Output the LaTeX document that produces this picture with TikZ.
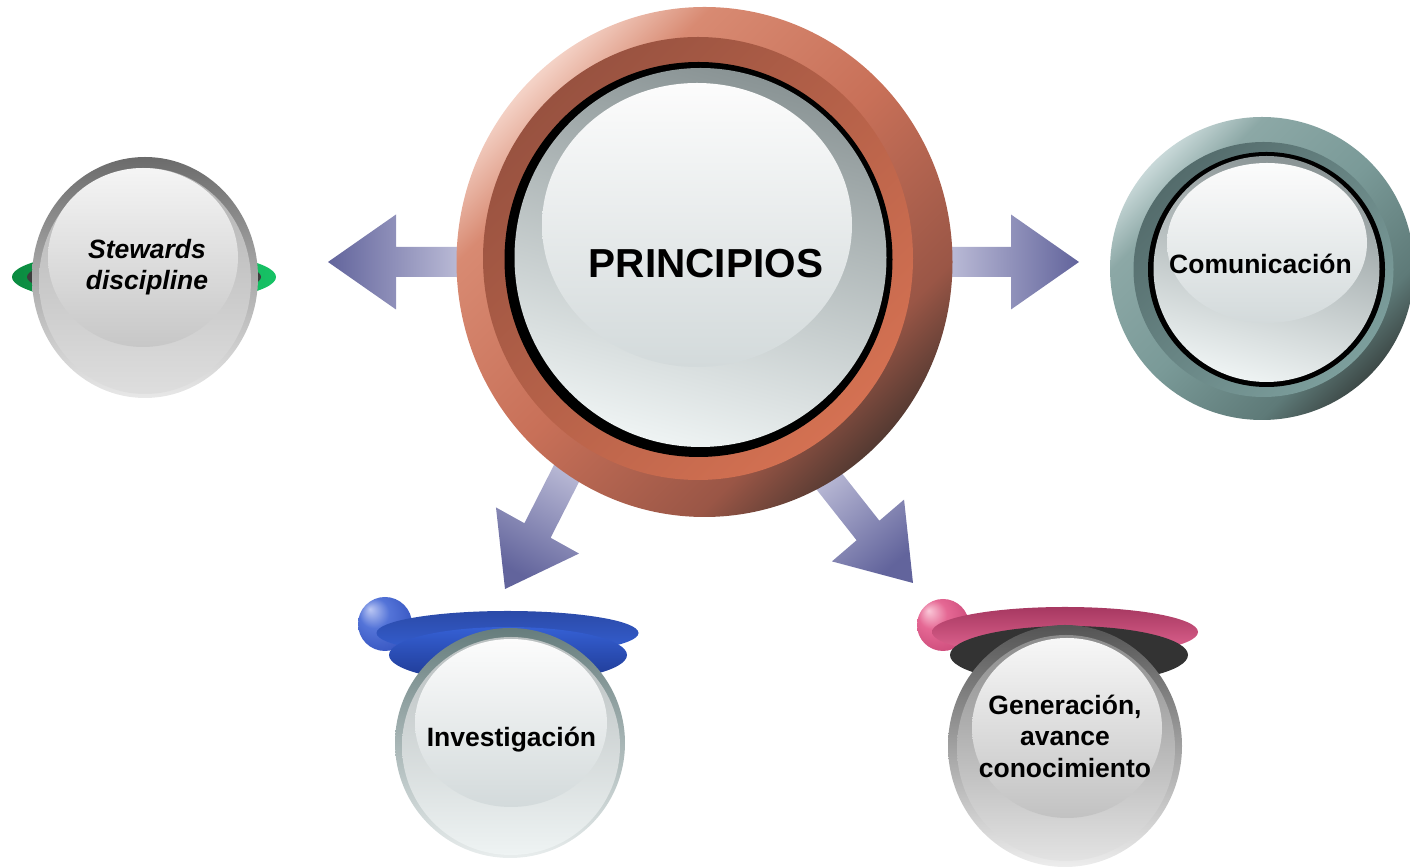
\documentclass[tikz,border=0pt]{standalone}
\usepackage{fontspec}
\setmainfont{Liberation Sans}
\usetikzlibrary{calc}
\definecolor{arrDark}{HTML}{62649C}
\definecolor{arrLight}{HTML}{C8C8DF}
\definecolor{prR0}{HTML}{553A32}
\definecolor{prR1}{HTML}{9A5646}
\definecolor{prR2}{HTML}{C87058}
\definecolor{prR3}{HTML}{D88A72}
\definecolor{prR4}{HTML}{F4D2C6}
\definecolor{prB1}{HTML}{985240}
\definecolor{prB2}{HTML}{D47152}
\definecolor{coR0}{HTML}{3E4A48}
\definecolor{coR1}{HTML}{5E7A78}
\definecolor{coR2}{HTML}{7A9A98}
\definecolor{coR3}{HTML}{8CA8A6}
\definecolor{coR4}{HTML}{C8D8D8}
\definecolor{coB1}{HTML}{546C6C}
\definecolor{coB2}{HTML}{7C9E9C}
\definecolor{faceTop}{HTML}{8A9495}
\definecolor{faceBot}{HTML}{EEF3F3}
\definecolor{hiTop}{HTML}{FCFCFC}
\definecolor{hiBot}{HTML}{D3DADB}
\definecolor{sbA}{HTML}{BCC8F4}
\definecolor{sbB}{HTML}{5474D8}
\definecolor{sbC}{HTML}{2C4AB8}
\definecolor{spA}{HTML}{FAC8D8}
\definecolor{spB}{HTML}{E56894}
\definecolor{spC}{HTML}{C44272}
\definecolor{grL}{HTML}{0B8B40}
\definecolor{grR}{HTML}{16C265}
\definecolor{blTop}{HTML}{2B4AA8}
\definecolor{blMid}{HTML}{3560D4}
\definecolor{blBot}{HTML}{1E3890}
\pgfdeclareverticalshading{prring}{100bp}{color(0bp)=(prR0); color(25bp)=(prR0); color(32.5bp)=(prR1); color(50bp)=(prR2); color(67.5bp)=(prR3); color(75bp)=(prR4); color(100bp)=(prR4)}
\pgfdeclareverticalshading{coring}{100bp}{color(0bp)=(coR0); color(25bp)=(coR0); color(32.5bp)=(coR1); color(50bp)=(coR2); color(67.5bp)=(coR3); color(75bp)=(coR4); color(100bp)=(coR4)}
\pgfdeclareradialshading{bluesphere}{\pgfpoint{-14bp}{14bp}}{color(0bp)=(sbA); color(14bp)=(sbB); color(40bp)=(sbC); color(50bp)=(sbC)}
\pgfdeclareradialshading{pinksphere}{\pgfpoint{-14bp}{14bp}}{color(0bp)=(spA); color(14bp)=(spB); color(40bp)=(spC); color(50bp)=(spC)}
\newcommand\myblockarrow[4]{%
  \shade[arrowsh, shading angle=#4] (#3) -- ($(#2)!23.75pt!90:(#3)$) -- ($(#2)!7.5pt!90:(#3)$) -- ($(#1)!7.5pt!90:(#3)$) -- ($(#1)!7.5pt!-90:(#3)$) -- ($(#2)!7.5pt!-90:(#3)$) -- ($(#2)!23.75pt!-90:(#3)$) -- cycle;}
\begin{document}
\begin{tikzpicture}[x=0.5pt,y=0.5pt,
  lbl/.style={font=\fontsize{13.25}{15.75}\selectfont\bfseries, inner sep=0pt, align=center, text=black},
  arrowsh/.style={top color=arrDark, bottom color=arrLight}]
\useasboundingbox (0,0) rectangle (1410,867);

% arrow coordinates
\coordinate (eL) at (480,605);  \coordinate (bL) at (396,605);  \coordinate (tL) at (328,605);
\coordinate (eR) at (930,605);  \coordinate (bR) at (1011,605); \coordinate (tR) at (1079,605);
\coordinate (eI) at (583,426);  \coordinate (bI) at (537.5,336.5); \coordinate (tI) at (505,278);
\coordinate (eG) at (806,415);  \coordinate (bG) at (868,336.5); \coordinate (tG) at (913,284);
\myblockarrow{eL}{bL}{tL}{90}
\myblockarrow{eR}{bR}{tR}{-90}
\myblockarrow{eI}{bI}{tI}{151}
\myblockarrow{eG}{bG}{tG}{-139.4}

% PRINCIPIOS
\shade[shading=prring, shading angle=45] (704.5,605) ellipse [x radius=248, y radius=255];
\shade[top color=prB1, bottom color=prB2, shading angle=45] (698,608.5) ellipse [x radius=215, y radius=221.5];
\fill[black] (698.5,607.5) ellipse [x radius=194, y radius=197.5];
\shade[top color=faceTop, bottom color=faceBot, shading angle=-15] (700.5,609.5) ellipse [x radius=186, y radius=189.5];
\shade[top color=hiTop, bottom color=hiBot] (697,642) ellipse [x radius=155, y radius=142];
\node[lbl, font=\fontsize{20.25}{24}\selectfont\bfseries, anchor=base] (principios) at (706,589.5) {PRINCIPIOS};

% Comunicacion
\shade[shading=coring, shading angle=45] (1262,598.5) ellipse [x radius=152, y radius=151.5];
\shade[top color=coB1, bottom color=coB2, shading angle=45] (1263.5,597.5) ellipse [x radius=130, y radius=127.5];
\fill[black] (1266.5,597.5) ellipse [x radius=118.5, y radius=117.5];
\shade[top color=faceTop, bottom color=faceBot, shading angle=-15] (1266.5,598) ellipse [x radius=113, y radius=113];
\shade[top color=hiTop, bottom color=hiBot] (1267,624) ellipse [x radius=100, y radius=80];
\node[lbl, anchor=base] (comunicacion) at (1260.5,593.5) {Comunicación};

% Stewards discipline
\shade[left color=grL, right color=grR] (144,590) ellipse [x radius=132, y radius=27];
\fill[black!76] (144,590) ellipse [x radius=117, y radius=21];
\shade[top color=black!58, bottom color=black!9] (145,589.5) ellipse [x radius=113, y radius=120.5];
\shade[top color=black!30, bottom color=black!13] (145,586) ellipse [x radius=106, y radius=113];
\shade[top color=black!4, bottom color=black!22] (143,609.5) ellipse [x radius=95, y radius=89.5];
\node[lbl, font=\fontsize{13.25}{15.5}\selectfont\bfseries\itshape] (stewards) at (147,599.5) {Stewards\\discipline};

% Investigacion
\shade[shading=bluesphere] (385,243) circle [radius=27];
\shade[top color=blTop, bottom color=blMid] (507.5,234) ellipse [x radius=131, y radius=22];
\shade[top color=blMid, bottom color=blBot] (508,212) ellipse [x radius=119, y radius=28];
\shade[top color=black!55!cyan!20!gray, bottom color=faceBot!95!gray] (510,124) circle [radius=115];
\shade[top color=faceTop!60!white, bottom color=faceBot] (511,121) circle [radius=109];
\shade[top color=hiTop, bottom color=hiBot] (511,144) ellipse [x radius=96, y radius=84];
\node[lbl, anchor=base] (investigacion) at (511.5,120) {Investigación};

% Generacion
\shade[shading=pinksphere] (943,242) circle [radius=26];
\shade[top color=spC!85!black, bottom color=spB] (1065,235) ellipse [x radius=133, y radius=25];
\fill[black!80] (1069,212) ellipse [x radius=119, y radius=29];
\shade[top color=black!67, bottom color=black!7] (1065,121) ellipse [x radius=117, y radius=121];
\shade[top color=black!45, bottom color=black!11] (1066,119) ellipse [x radius=109, y radius=113];
\shade[top color=black!3, bottom color=black!24] (1067,139) ellipse [x radius=95, y radius=90];
\node[lbl] (generacion) at (1065,131) {Generación,\\avance\\conocimiento};
\end{tikzpicture}
\end{document}
